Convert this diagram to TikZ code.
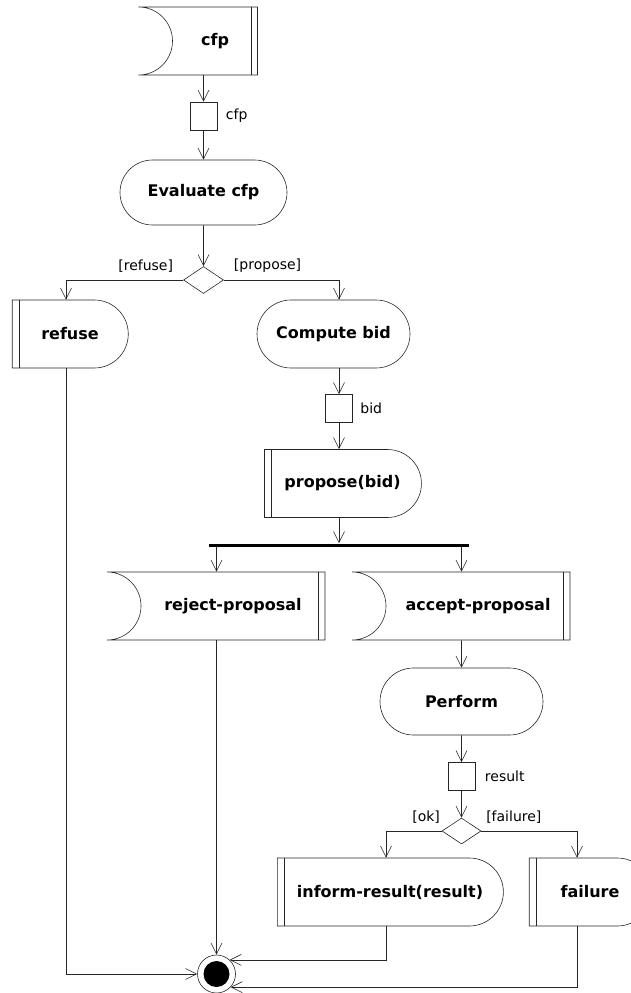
\documentclass[tikz,border=0pt]{standalone}
\usepackage{fontspec}
\setmainfont{DejaVu Sans}
\usetikzlibrary{arrows.meta,positioning,shapes.geometric,shapes.misc}

\begin{document}
\begin{tikzpicture}[x=1pt,y=-1pt,>={Straight Barb[length=11pt,width=11pt]},
    line width=0.6pt,draw=black!85,
    every node/.style={font=\fontsize{14}{16}\selectfont},
    act/.style={rounded rectangle,draw,minimum height=68pt,inner sep=0pt,
      font=\bfseries\fontsize{16}{19}\selectfont},
    sendsig/.style={act,rounded rectangle left arc=none},
    recvsig/.style={act,rounded rectangle left arc=concave,
      rounded rectangle right arc=none},
    objpin/.style={rectangle,draw,minimum width=27pt,minimum height=28pt,inner sep=0pt},
    choice/.style={diamond,draw,minimum width=40pt,minimum height=27pt,inner sep=0pt},
    forkbar/.style={rectangle,fill=black,minimum width=260pt,minimum height=3pt,inner sep=0pt},
    endnode/.style={circle,draw,minimum size=38pt,inner sep=0pt,
      path picture={\fill (path picture bounding box.center) circle (13pt);}}]
  \useasboundingbox (0,0) rectangle (631,993);

  % participant side
  \node[recvsig,minimum width=119pt] (cfp) at (215,41) {cfp};
  \node[objpin,label={[xshift=5pt]right:cfp}] (pcfp) at (203.5,116) {};
  \node[act,minimum width=167pt,minimum height=65pt] (eval) at (203.5,192.5) {Evaluate cfp};
  \node[choice] (split) at (203.5,280) {};
  \node[sendsig,minimum width=116pt] (refuse) at (70,334) {refuse};
  \node[act,minimum width=153pt] (compute) at (333.5,334) {Compute bid};
  \node[objpin,label={[xshift=4pt]right:bid}] (pbid) at (339,408.5) {};
  \node[sendsig,minimum width=157pt] (propose) at (342.5,483.5) {propose(bid)};
  \node[forkbar] (fork) at (339,545) {};
  \node[recvsig,minimum width=218pt] (reject) at (233,606) {reject-proposal};
  \node[recvsig,minimum width=218pt] (accept) at (478,606) {accept-proposal};
  \node[act,minimum width=163pt,minimum height=67pt] (perform) at (461.5,701.5) {Perform};
  \node[objpin,label={[xshift=6pt]right:result}] (pres) at (461.5,776.5) {};
  \node[choice,minimum width=39pt,minimum height=26pt] (check) at (461.5,831) {};
  \node[sendsig,minimum width=226pt] (inform) at (390,892) {inform-result(result)};
  \node[sendsig,minimum width=122pt] (failure) at (590,892) {failure};
  \node[endnode] (done) at (216.5,974) {};

  % double bars of the signal boxes
  \foreach \n in {refuse,propose,inform,failure}
    \draw ([xshift=7pt]\n.west |- \n.north) -- ([xshift=7pt]\n.west |- \n.south);
  \foreach \n in {cfp,reject,accept}
    \draw ([xshift=-7pt]\n.east |- \n.north) -- ([xshift=-7pt]\n.east |- \n.south);

  % flows
  \draw[->] (cfp.south -| pcfp) -- (pcfp);
  \draw[->] (pcfp) -- (eval);
  \draw[->] (eval) -- (split);
  \draw[->] (split.west) -| node[pos=0.16,above=4pt]{[refuse]} ([xshift=-4pt]refuse.north);
  \draw[->] (split.east) -| node[pos=0.19,above=4pt]{[propose]} (compute.north -| pbid);
  \draw[->] (compute.south -| pbid) -- (pbid);
  \draw[->] (pbid) -- (pbid |- propose.north);
  \draw[->] (propose.south -| fork) -- (fork);
  \draw[->] (fork.south -| done) -- (done |- reject.north);
  \draw[->] (fork.south -| perform) -- (perform |- accept.north);
  \draw[->] (accept.south -| perform) -- (perform);
  \draw[->] (perform) -- (pres);
  \draw[->] (pres) -- (check);
  \draw[->] (check.west) -| node[pos=0.14,above=4pt]{[ok]} ([xshift=-4pt]inform.north);
  \draw[->] (check.east) -| node[pos=0.17,above=4pt]{[failure]} ([xshift=-13pt]failure.north);
  \draw[->] (reject.south -| done) -- (done);
  \draw[->] ([xshift=-4pt]refuse.south) |- (done);
  \draw[->] ([xshift=-4pt]inform.south) |- (done.47);
  \draw[->] ([xshift=-13pt]failure.south) |- (done.-43);
\end{tikzpicture}
\end{document}
